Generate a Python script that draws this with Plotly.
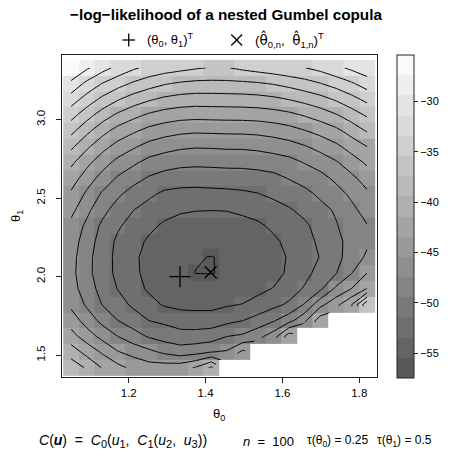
import numpy as np
import plotly.graph_objects as go

# grid of copula parameters
theta0 = [1.050, 1.091, 1.131, 1.172, 1.212, 1.253, 1.293, 1.334, 1.374, 1.415,
          1.455, 1.496, 1.536, 1.577, 1.617, 1.658, 1.698, 1.739, 1.779, 1.820]
theta1 = [1.420, 1.521, 1.621, 1.722, 1.822, 1.923, 2.023, 2.124, 2.224, 2.325,
          2.425, 2.526, 2.626, 2.727, 2.827, 2.928, 3.028, 3.129, 3.229, 3.330]

# -log-likelihood, one row per theta1 value (None where theta1 < theta0)
nll = [
    [-38.22, -39.68, -41.53, -42.83, -43.93, -44.53, -44.43, -44.23, -43.23, -41.03,
     None, None, None, None, None, None, None, None, None, None],
    [-40.34, -42.13, -43.71, -45.33, -46.15, -46.99, -47.84, -48.48, -48.16, -47.48,
     -47.24, -45.03, None, None, None, None, None, None, None, None],
    [-42.69, -44.45, -46.07, -47.48, -48.62, -49.68, -50.32, -50.66, -50.64, -50.50,
     -49.48, -49.14, -48.08, -46.43, -42.23, None, None, None, None, None],
    [-44.37, -46.31, -48.02, -49.46, -50.44, -51.48, -51.84, -52.44, -52.54, -52.38,
     -52.00, -51.50, -50.70, -49.64, -48.24, -45.83, -42.43, None, None, None],
    [-45.85, -47.74, -49.48, -50.64, -51.80, -52.78, -53.64, -53.95, -54.00, -54.09,
     -53.64, -53.38, -52.74, -51.94, -51.14, -49.24, -46.03, -44.03, -41.63, -35.82],
    [-46.63, -48.44, -50.14, -51.52, -52.68, -53.74, -54.45, -54.75, -54.85, -54.85,
     -54.65, -54.45, -53.95, -53.34, -52.34, -51.24, -49.84, -47.05, -45.43, -43.33],
    [-46.83, -48.84, -50.54, -51.90, -53.08, -53.95, -54.69, -55.15, -55.46, -55.48,
     -55.31, -55.09, -54.75, -54.25, -53.04, -51.98, -50.80, -49.54, -47.54, -45.43],
    [-46.71, -48.80, -50.52, -51.94, -53.08, -54.07, -54.65, -55.07, -55.39, -55.47,
     -55.33, -55.11, -54.69, -54.09, -53.28, -52.16, -51.38, -50.02, -48.62, -47.09],
    [-46.43, -48.46, -50.28, -51.84, -52.68, -53.78, -54.35, -54.77, -55.01, -55.09,
     -55.03, -54.79, -54.37, -53.80, -52.94, -52.04, -51.12, -49.96, -48.80, -47.76],
    [-45.99, -47.86, -49.82, -51.18, -52.20, -52.96, -53.78, -54.16, -54.39, -54.45,
     -54.37, -54.15, -53.78, -53.04, -52.34, -51.80, -50.62, -49.60, -48.42, -47.52],
    [-44.85, -46.93, -48.80, -50.32, -51.40, -52.24, -52.66, -53.20, -53.36, -53.40,
     -53.36, -53.04, -52.66, -52.20, -51.64, -50.86, -50.06, -49.20, -47.94, -46.67],
    [-43.75, -45.81, -47.70, -49.10, -50.26, -51.06, -51.84, -52.04, -52.06, -51.98,
     -51.92, -51.76, -51.52, -51.04, -50.54, -49.98, -49.08, -48.22, -47.07, -45.79],
    [-42.45, -44.41, -46.19, -47.72, -48.74, -49.66, -50.24, -50.52, -50.62, -50.56,
     -50.48, -50.44, -50.28, -50.00, -49.36, -48.70, -48.12, -47.03, -45.93, -44.57],
    [-41.01, -42.89, -44.55, -46.05, -47.07, -48.10, -48.58, -48.90, -49.00, -48.94,
     -48.86, -48.84, -48.70, -48.44, -48.10, -47.34, -46.57, -45.65, -44.39, -43.11],
    [-39.00, -41.09, -42.77, -44.17, -45.19, -46.17, -46.73, -47.13, -47.30, -47.26,
     -47.17, -47.15, -46.99, -46.67, -46.27, -45.61, -44.81, -43.89, -42.67, -41.45],
    [-36.84, -38.90, -40.73, -42.19, -43.13, -44.05, -44.61, -44.99, -45.15, -45.09,
     -45.03, -45.01, -44.89, -44.61, -44.19, -43.53, -42.81, -41.95, -40.66, -39.26],
    [-34.70, -36.62, -38.40, -39.84, -40.87, -41.77, -42.33, -42.67, -42.79, -42.73,
     -42.69, -42.67, -42.57, -42.33, -41.95, -41.29, -40.55, -39.62, -38.46, -37.18],
    [-32.39, -34.28, -35.88, -37.28, -38.36, -39.20, -39.84, -40.20, -40.36, -40.34,
     -40.30, -40.24, -40.12, -39.84, -39.38, -38.78, -38.12, -37.20, -36.12, -34.90],
    [-29.91, -31.93, -33.49, -34.68, -35.72, -36.56, -37.26, -37.70, -37.92, -37.94,
     -37.90, -37.82, -37.64, -37.30, -36.80, -36.20, -35.52, -34.66, -33.71, -32.49],
    [-27.37, -29.11, -30.61, -32.01, -33.11, -33.92, -34.42, -34.82, -35.22, -35.52,
     -35.52, -35.02, -34.62, -34.22, -33.81, -33.45, -32.81, -31.91, -31.01, -30.11],
]

theta_true = [1.3333, 2.0]   # (theta0, theta1)
theta_hat = [1.413, 2.028]   # MLE

xticks = [1.2, 1.4, 1.6, 1.8]
yticks = [1.5, 2.0, 2.5, 3.0]
cbar_ticks = [-55, -50, -45, -40, -35, -30]

# ---- colour breaks: 16 equal intervals over the slightly widened z range ----
z = np.array([[np.nan if v is None else v for v in row] for row in nll])
zmin, zmax = np.nanmin(z), np.nanmax(z)
d = zmax - zmin
lo, hi = zmin - 0.07 * d, zmax + 0.07 * d
ncut = 16
step = (hi - lo) / ncut

greys = np.linspace(0.35, 0.98, ncut)
colorscale = []
for k, g in enumerate(greys):
    v = int(round(g * 255))
    c = f"rgb({v},{v},{v})"
    colorscale.append([k / ncut, c])
    colorscale.append([(k + 1) / ncut, c])

# ---- page geometry (pixels) ----
W, H = 452, 452
ML, MR, MT, MB = 62, 69, 55, 75
PW, PH = W - ML - MR, H - MT - MB


def px(xp):
    return (xp - ML) / PW


def py(yp):
    return (H - MB - yp) / PH


FONT = "Liberation Sans, Arial, Helvetica, sans-serif"
minus = "\u2212"
nb = "\u00a0"
hat_theta = '<span style="font-family:DejaVu Sans">θ\u0302</span>'


def sub(s, size=11):
    return f'<sub><span style="font-size:{size}px">{s}</span></sub>'


fig = go.Figure()

fig.add_trace(go.Heatmap(
    x=theta0, y=theta1, z=nll,
    zmin=lo, zmax=hi, colorscale=colorscale,
    hoverinfo="skip",
    colorbar=dict(
        x=px(403), xanchor="left", xpad=0,
        y=1, yanchor="top", ypad=0,
        len=323, lenmode="pixels",
        thickness=17, thicknessmode="pixels",
        outlinecolor="#222", outlinewidth=1,
        tickvals=cbar_ticks,
        ticktext=[f"{minus}{abs(t)}" for t in cbar_ticks],
        ticks="outside", ticklen=4, tickwidth=1, tickcolor="#222",
        tickfont=dict(family=FONT, size=11, color="black"),
    ),
))

fig.add_trace(go.Contour(
    x=theta0, y=theta1, z=nll,
    contours=dict(coloring="none", start=lo + step, end=hi - step / 2, size=step),
    line=dict(color="black", width=1, smoothing=0),
    showscale=False, hoverinfo="skip",
))

fig.add_trace(go.Scatter(
    x=[theta_true[0]], y=[theta_true[1]], mode="markers",
    marker=dict(symbol="cross-thin", size=15, line=dict(width=1.3, color="black")),
    hoverinfo="skip", showlegend=False,
))
fig.add_trace(go.Scatter(
    x=[theta_hat[0]], y=[theta_hat[1]], mode="markers",
    marker=dict(symbol="x-thin", size=12, line=dict(width=1.3, color="black")),
    hoverinfo="skip", showlegend=False,
))

axis_common = dict(
    ticks="outside", ticklen=5, tickwidth=1, tickcolor="#222",
    showline=True, linecolor="#222", linewidth=1, mirror=True,
    showgrid=False, zeroline=False,
    tickfont=dict(family=FONT, size=11.5, color="black"),
)
fig.update_xaxes(range=[1.0264, 1.8459], tickvals=xticks,
                 ticktext=[f"{t:.1f}" for t in xticks], **axis_common)
fig.update_yaxes(range=[1.3612, 3.4115], tickvals=yticks,
                 ticktext=[f"{t:.1f}" for t in yticks], tickangle=-90,
                 ticklabelstandoff=6, **axis_common)

ann = []


def text(xp, yp, s, size=12, anchor="center", angle=0):
    ann.append(dict(x=px(xp), y=py(yp), xref="paper", yref="paper", text=s,
                    showarrow=False, xanchor=anchor, yanchor="middle",
                    textangle=angle,
                    font=dict(family=FONT, size=size, color="black")))


eq = f"{nb}={nb}"
text(229, 15, f"<b>{minus}log{minus}likelihood of a nested Gumbel copula</b>", size=15.3)
text(147, 40, f"(θ<sub>0</sub>,{nb}θ<sub>1</sub>)<sup>T</sup>", size=13, anchor="left")
text(257, 40, f"({hat_theta}<sub>0,n</sub>,{nb}{nb}{hat_theta}<sub>1,n</sub>)<sup>T</sup>",
     size=13.5, anchor="left")
text(222, 414, "θ<sub>0</sub>", size=13)
text(15, 216, "θ<sub>1</sub>", size=13, angle=-90)
text(37, 441, f"<i>C</i>(<b><i>u</i></b>){nb}{nb}={nb}{nb}<i>C</i>{sub('0')}(<i>u</i>{sub('1')},{nb}{nb}"
     f"<i>C</i>{sub('1')}(<i>u</i>{sub('2')},{nb}{nb}<i>u</i>{sub('3')}))", size=14, anchor="left")
text(244, 441, f"<i>n</i>{nb}{eq}{nb}100", size=13, anchor="left")
text(310, 441, f"τ(θ<sub>0</sub>){eq}0.25", size=12, anchor="left")
text(381, 441, f"τ(θ<sub>1</sub>){eq}0.5", size=12, anchor="left")

# legend glyphs: plus and cross
shapes = []
for (cx, cy, h) in [(130, 40, 6.5)]:
    shapes.append(dict(type="line", xref="paper", yref="paper",
                       x0=px(cx - h), x1=px(cx + h), y0=py(cy), y1=py(cy),
                       line=dict(color="black", width=1.3)))
    shapes.append(dict(type="line", xref="paper", yref="paper",
                       x0=px(cx), x1=px(cx), y0=py(cy - h), y1=py(cy + h),
                       line=dict(color="black", width=1.3)))
for (cx, cy, h) in [(240, 40, 5.5)]:
    shapes.append(dict(type="line", xref="paper", yref="paper",
                       x0=px(cx - h), x1=px(cx + h), y0=py(cy - h), y1=py(cy + h),
                       line=dict(color="black", width=1.3)))
    shapes.append(dict(type="line", xref="paper", yref="paper",
                       x0=px(cx - h), x1=px(cx + h), y0=py(cy + h), y1=py(cy - h),
                       line=dict(color="black", width=1.3)))

fig.update_layout(
    width=W, height=H,
    margin=dict(l=ML, r=MR, t=MT, b=MB, pad=0),
    paper_bgcolor="white", plot_bgcolor="white",
    showlegend=False,
    annotations=ann, shapes=shapes,
    font=dict(family=FONT, size=11, color="black"),
)

fig.write_html("out.html")
